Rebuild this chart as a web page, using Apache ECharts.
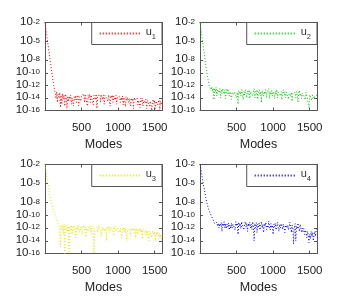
<!DOCTYPE html>
<html>
<head>
<meta charset="utf-8">
<script src="https://cdn.jsdelivr.net/npm/echarts@6/dist/echarts.min.js"></script>
<style>html,body{margin:0;padding:0;background:#fff}#c{width:350px;height:300px}</style>
</head>
<body>
<div id="c"></div>
<script>
// Mode numbers (x)
const modes = [
  0,10,20,30,40,50,60,70,80,90,
  100,110,120,130,140,150,160,170,180,190,
  200,210,220,230,240,250,260,270,280,290,
  300,310,320,330,340,350,360,370,380,390,
  400,410,420,430,440,450,460,470,480,490,
  500,510,520,530,540,550,560,570,580,590,
  600,610,620,630,640,650,660,670,680,690,
  700,710,720,730,740,750,760,770,780,790,
  800,810,820,830,840,850,860,870,880,890,
  900,910,920,930,940,950,960,970,980,990,
  1000,1010,1020,1030,1040,1050,1060,1070,1080,1090,
  1100,1110,1120,1130,1140,1150,1160,1170,1180,1190,
  1200,1210,1220,1230,1240,1250,1260,1270,1280,1290,
  1300,1310,1320,1330,1340,1350,1360,1370,1380,1390,
  1400,1410,1420,1430,1440,1450,1460,1470,1480,1490,
  1500,1510,1520,1530,1540,1550,1560,1570,1580,1590,
  1600
];
const u1 = [
  1e-2,1.5e-3,2e-4,3e-5,4e-6,6e-7,8e-8,1e-8,1.5e-9,2e-10,
  3e-11,5e-12,1e-12,2e-13,6e-14,8e-15,1e-13,2e-15,4e-14,1.5e-14,
  7e-14,3e-16,3e-14,1e-15,5e-14,6e-15,3e-14,5e-16,4e-14,1.5e-14,
  2e-16,1.5e-14,3e-15,2e-14,6e-15,3e-14,1e-15,1e-14,2e-14,5e-16,
  1.5e-14,5e-15,2.5e-14,2e-15,1e-14,3e-14,6e-16,1.5e-14,1e-14,3e-15,
  2e-14,4e-14,1e-14,5e-14,2e-15,3e-14,1.5e-14,4e-14,5e-16,2.5e-14,
  1e-14,4e-14,2e-15,3e-14,1.5e-14,5e-14,8e-16,2.5e-14,3e-14,5e-15,
  4e-14,2e-16,2e-14,3.5e-14,1e-14,4e-14,2e-15,3e-14,1.5e-14,5e-15,
  3e-14,1e-15,2.5e-14,4e-14,1e-14,2e-14,3e-15,3e-14,1.5e-14,5e-16,
  2.5e-14,1e-14,3e-14,2e-15,2e-14,3e-14,5e-15,2.5e-14,1e-15,1.5e-14,
  2e-14,8e-15,1.5e-14,2e-15,1.2e-14,4e-15,2e-14,8e-16,1.2e-14,8e-15,
  4e-16,1.5e-14,4e-15,1.2e-14,2e-15,8e-15,1.5e-14,5e-16,1e-14,3e-15,
  8e-15,2e-16,1.2e-14,4e-15,2e-15,8e-15,1e-14,8e-16,4e-15,8e-15,
  3e-16,8e-15,3e-15,1e-14,5e-16,4e-15,8e-15,1.5e-15,6e-15,2e-16,
  4e-15,2e-15,8e-15,5e-16,3e-15,5e-15,1e-16,2.5e-15,6e-15,1e-15,
  4e-15,2e-16,3e-15,6e-15,8e-16,2e-15,5e-15,1e-16,3e-15,8e-16,
  3e-15
];
const u2 = [
  1e-2,1.2e-3,2e-4,2.5e-5,4e-6,5e-7,8e-8,1e-8,1.5e-9,2e-10,
  3e-11,8e-12,2e-12,5e-13,1e-12,2e-13,6e-13,1e-13,4e-13,5e-15,
  3e-13,8e-14,5e-13,2e-14,2e-13,4e-13,6e-14,3e-13,1e-14,2e-13,
  5e-14,3e-13,1e-13,4e-14,2e-13,8e-15,1e-13,3e-13,5e-14,1.5e-13,
  2e-14,1e-13,2e-13,6e-15,8e-14,1.5e-13,3e-14,1e-13,5e-14,2e-13,
  1e-14,8e-14,1e-15,1.5e-13,4e-14,1e-13,2e-14,2e-13,6e-14,5e-15,
  1e-13,3e-14,2e-13,5e-14,1e-14,1.2e-13,4e-14,2e-13,8e-15,1e-13,
  5e-14,1.5e-13,2e-14,8e-14,3e-13,1e-14,1e-13,4e-14,2e-13,6e-15,
  8e-14,2e-13,3e-14,1e-13,2e-15,1.5e-13,5e-14,2e-14,1e-13,4e-14,
  2e-13,1e-14,1e-13,5e-14,3e-13,8e-15,1e-13,3e-14,1.5e-13,2e-14,
  1e-13,4e-14,8e-15,1.2e-13,3e-14,2e-13,1e-14,8e-14,4e-14,1.5e-13,
  2e-14,1e-13,5e-15,6e-14,2e-13,3e-14,1e-13,1e-14,8e-14,4e-14,
  1.2e-13,6e-15,5e-14,1e-13,2e-14,8e-14,3e-15,6e-14,1e-13,3e-14,
  8e-14,1e-14,1e-13,4e-14,2e-15,6e-14,1.5e-13,2e-14,5e-14,8e-15,
  6e-14,1e-13,2e-14,4e-14,5e-15,8e-14,2e-14,4e-14,1e-14,3e-16,
  3e-14,6e-14,1e-14,4e-15,3e-14,5e-14,8e-15,2e-14,4e-14,1e-14,
  3e-14
];
const u3 = [
  1e-2,2e-3,3e-4,5e-5,1e-5,2e-6,4e-7,8e-8,2e-8,8e-9,
  3e-9,1e-9,4e-10,2e-10,1e-10,5e-11,2e-11,1e-11,5e-12,2e-12,
  8e-13,1e-15,3e-12,6e-13,2e-12,1e-13,4e-12,1e-16,2e-12,8e-13,
  3e-12,3e-13,1.5e-12,2e-16,2e-12,5e-13,3e-12,1e-13,1e-12,2.5e-12,
  6e-13,2e-12,3e-14,1.5e-12,4e-13,3e-12,8e-13,2e-13,1.5e-12,5e-13,
  2e-12,1e-13,1e-12,3e-12,5e-13,1.5e-12,4e-14,1e-12,2e-12,3e-13,
  1.5e-12,6e-13,2e-12,1e-13,1e-12,2e-12,4e-13,1e-16,1e-12,2e-12,
  5e-13,1.5e-12,2e-13,1e-12,2.5e-12,6e-13,1e-12,5e-14,1.5e-12,4e-13,
  1e-12,2e-12,3e-13,1e-12,1e-14,1.5e-12,5e-13,2e-12,8e-13,2e-13,
  1.5e-12,3e-12,4e-13,1e-12,6e-14,2e-12,8e-13,1.5e-12,3e-13,1e-12,
  5e-13,1.5e-12,2e-13,1e-12,8e-13,3e-14,1e-12,4e-13,1.5e-12,2e-13,
  8e-13,1e-12,1e-14,6e-13,1.2e-12,3e-13,8e-13,5e-14,1e-12,4e-13,
  6e-13,1e-12,2e-13,8e-13,3e-14,1e-12,5e-13,1e-13,8e-13,3e-13,
  1e-12,2e-13,6e-13,2e-14,8e-13,3e-13,6e-13,1e-13,5e-13,8e-14,
  4e-13,6e-13,1e-14,3e-13,5e-13,1e-13,3e-14,4e-13,2e-13,8e-14,
  3e-13,1e-14,2e-13,8e-14,3e-13,4e-14,1.5e-13,3e-14,1e-13,2e-14,
  1e-13
];
const u4 = [
  1e-2,3e-3,6e-4,1e-4,2e-5,4e-6,1e-6,2.5e-7,6e-8,1.5e-8,
  5e-9,2e-9,8e-10,4e-10,2e-10,1e-10,6e-11,3e-11,2e-11,1e-11,
  5e-12,1e-11,3e-12,8e-12,2e-12,6e-12,1e-12,5e-12,2e-12,8e-12,
  3e-13,6e-12,2e-12,1e-11,1e-12,5e-12,8e-13,4e-12,1.5e-12,6e-12,
  5e-13,3e-12,8e-13,6e-12,1e-12,4e-12,2e-12,8e-12,5e-13,1e-11,
  2e-12,6e-12,1e-13,8e-12,2e-12,5e-12,8e-13,1e-11,3e-12,6e-12,
  5e-13,4e-12,1e-11,1.5e-12,6e-12,3e-13,5e-12,2e-12,8e-12,1e-12,
  4e-12,6e-13,1e-11,2e-12,1e-14,5e-12,1e-12,7e-12,2e-13,4e-12,
  1.5e-12,6e-12,5e-13,3e-12,1e-11,1e-12,4e-12,2e-13,5e-12,2e-12,
  8e-12,6e-13,3e-12,1e-12,1.2e-11,2e-12,5e-13,5e-12,1e-12,3e-12,
  1e-13,4e-12,1.5e-12,6e-12,5e-13,2e-12,8e-12,1e-12,3e-13,4e-12,
  1e-12,5e-12,2e-12,6e-13,4e-12,1e-12,2e-13,3e-12,6e-12,1e-12,
  3e-12,5e-13,2e-12,8e-12,1e-12,2e-13,3e-12,1e-12,3e-15,1e-12,
  5e-12,1e-14,2e-12,8e-13,6e-12,1e-12,3e-13,4e-12,1e-12,2e-13,
  1e-12,3e-13,8e-13,1e-13,5e-13,2e-13,3e-14,3e-13,8e-14,5e-15,
  1e-13,2e-14,3e-13,5e-14,2e-13,1e-14,1e-13,3e-13,5e-14,8e-13,
  3e-13
];
const seriesNames = ['u1','u2','u3','u4'];
const seriesSubs = ['1','2','3','4'];
const seriesColors = ['#ff0000','#00cc00','#e6e600','#0000ff'];
const xTicks = [500,1000,1500];
const yTicks = [1e-2,1e-5,1e-8,1e-10,1e-12,1e-14,1e-16];
const xLabel = 'Modes';

const allData = [u1,u2,u3,u4];
const FONT = 'Liberation Sans, Arial, Helvetica, sans-serif';
const frame = '#555';
const grids = [
  {left:45, top:22.5, width:117, height:88},
  {left:200, top:22.5, width:117, height:88},
  {left:45, top:164.5, width:117, height:89},
  {left:200, top:164.5, width:117, height:89}
];
const xAxes = [], yAxes = [], series = [], legends = [];
grids.forEach((g,i)=>{
  xAxes.push({type:'value', gridIndex:i, position:'bottom', min:0, max:1600,
    name:xLabel, nameLocation:'middle', nameGap:28,
    nameTextStyle:{fontFamily:FONT, fontSize:12.5, color:'#222'},
    axisLine:{show:true, onZero:false, lineStyle:{color:frame, width:1}},
    axisTick:{show:true, inside:true, length:3, customValues:xTicks, lineStyle:{color:frame}},
    axisLabel:{show:true, customValues:xTicks, margin:11, fontFamily:FONT, fontSize:11.5, color:'#222',
      formatter:v=>String(v)},
    splitLine:{show:false}});
  xAxes.push({type:'value', gridIndex:i, position:'top', min:0, max:1600,
    axisLine:{show:true, onZero:false, lineStyle:{color:frame, width:1}},
    axisTick:{show:true, inside:true, length:3, customValues:xTicks, lineStyle:{color:frame}},
    axisLabel:{show:false}, splitLine:{show:false}});
  const yCommon = {type:'log', logBase:10, gridIndex:i, min:0.999e-16, max:1.001e-2,
    splitLine:{show:false}};
  yAxes.push(Object.assign({}, yCommon, {position:'left',
    axisLine:{show:true, onZero:false, lineStyle:{color:frame, width:1}},
    axisTick:{show:true, inside:true, length:3, customValues:yTicks, lineStyle:{color:frame}},
    axisLabel:{show:true, customValues:yTicks, margin:5, showMinLabel:true, showMaxLabel:true, hideOverlap:false,
      formatter:v=>'{b|10}{s|' + Math.round(Math.log10(v)) + '}',
      rich:{b:{fontFamily:FONT, fontSize:11.5, color:'#222', lineHeight:10, verticalAlign:'bottom'},
            s:{fontFamily:FONT, fontSize:8, color:'#222', verticalAlign:'top', lineHeight:10}}}}));
  yAxes.push(Object.assign({}, yCommon, {position:'right',
    axisLine:{show:true, onZero:false, lineStyle:{color:frame, width:1}},
    axisTick:{show:true, inside:true, length:3, customValues:yTicks, lineStyle:{color:frame}},
    axisLabel:{show:false}}));
  series.push({type:'line', name:seriesNames[i], xAxisIndex:2*i, yAxisIndex:2*i,
    data: modes.map((m,k)=>[m, allData[i][k]]),
    showSymbol:false, symbol:'none', silent:true, clip:true,
    lineStyle:{color:seriesColors[i], width:1, type:[1,2]},
    itemStyle:{color:seriesColors[i]}});
  legends.push({data:[seriesNames[i]], orient:'horizontal',
    right: 350 - g.left - g.width, top: g.top,
    itemWidth:41, itemHeight:14, itemGap:6,
    padding:[4,6,4,7], borderColor:frame, borderWidth:1, backgroundColor:'#fff',
    selectedMode:false,
    itemStyle:{opacity:0},
    formatter: n => '{a|u}{b|' + seriesSubs[seriesNames.indexOf(n)] + '}',
    textStyle:{fontFamily:FONT, color:'#333',
      rich:{a:{fontFamily:FONT, fontSize:11, color:'#333', verticalAlign:'top', lineHeight:14},
            b:{fontFamily:FONT, fontSize:7.5, color:'#333', verticalAlign:'bottom', lineHeight:14}}}});
});
const chart = echarts.init(document.getElementById('c'), null, {renderer:'canvas'});
chart.setOption({animation:false, backgroundColor:'#fff',
  grid:grids, xAxis:xAxes, yAxis:yAxes, series:series, legend:legends});
</script>
</body>
</html>
